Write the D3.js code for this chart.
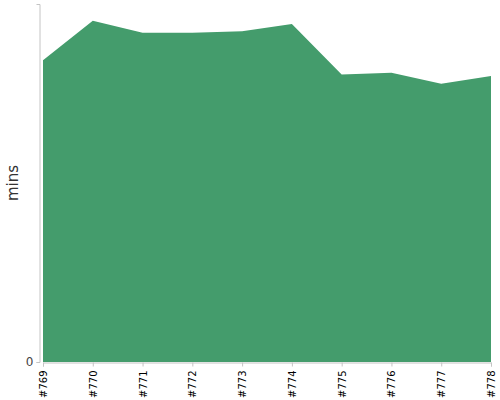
<!DOCTYPE html>
<meta charset="utf-8">
<style>
    body {
        margin: 0;
        background: #fff;
    }

    .area {
        fill: #449c6c;
    }

    .axis path,
    .axis line {
        stroke: #c4c4c4;
    }

    .axis--x text {
        font: 10px "DejaVu Sans", sans-serif;
        fill: #000;
    }

    .axis--y text {
        font: 12px "DejaVu Sans", sans-serif;
        fill: #444;
    }

    .label {
        font: 15px "DejaVu Sans", sans-serif;
        fill: #333;
    }
</style>
<svg width="500" height="400"></svg>
<script src="https://d3js.org/d3.v7.min.js"></script>
<script>
    // builds and their durations (mins)
    var builds = ['#769', '#770', '#771', '#772', '#773', '#774', '#775', '#776', '#777', '#778'];
    var mins = [84.3, 95.3, 92.0, 92.0, 92.4, 94.4, 80.3, 80.8, 77.7, 79.9];
    var yTicks = [0];

    var svg = d3.select('svg'),
        margin = {top: 4, right: 9, bottom: 38, left: 43},
        width = +svg.attr('width') - margin.left - margin.right,
        height = +svg.attr('height') - margin.top - margin.bottom;

    var data = builds.map((b, i) => ({build: b, mins: mins[i]}));

    var x = d3.scalePoint().domain(builds).range([0, width]),
        y = d3.scaleLinear().domain([0, 100]).range([height, 0]);

    var g = svg.append('g')
        .attr('transform', 'translate(' + margin.left + ',' + margin.top + ')');

    var area = d3.area()
        .x(d => x(d.build))
        .y0(height)
        .y1(d => y(d.mins));

    g.append('path')
        .datum(data)
        .attr('class', 'area')
        .attr('d', area);

    // x axis with vertical build labels
    g.append('g')
        .attr('class', 'axis axis--x')
        .attr('transform', 'translate(0,' + (height + 0.5) + ')')
        .call(d3.axisBottom(x).tickSizeOuter(0).tickSize(4))
        .selectAll('text')
        .attr('transform', 'rotate(-90)')
        .attr('text-anchor', 'end')
        .attr('x', -8)
        .attr('y', 0)
        .attr('dy', '0.35em');

    // y axis sits a few px left of the area
    g.append('g')
        .attr('class', 'axis axis--y')
        .attr('transform', 'translate(-3.5,0)')
        .call(d3.axisLeft(y).tickValues(yTicks).tickSizeOuter(0).tickSize(3))
        .select('.domain');

    svg.append('text')
        .attr('class', 'label')
        .attr('transform', 'translate(18,' + (margin.top + height / 2) + ') rotate(-90)')
        .attr('text-anchor', 'middle')
        .text('mins');
</script>
